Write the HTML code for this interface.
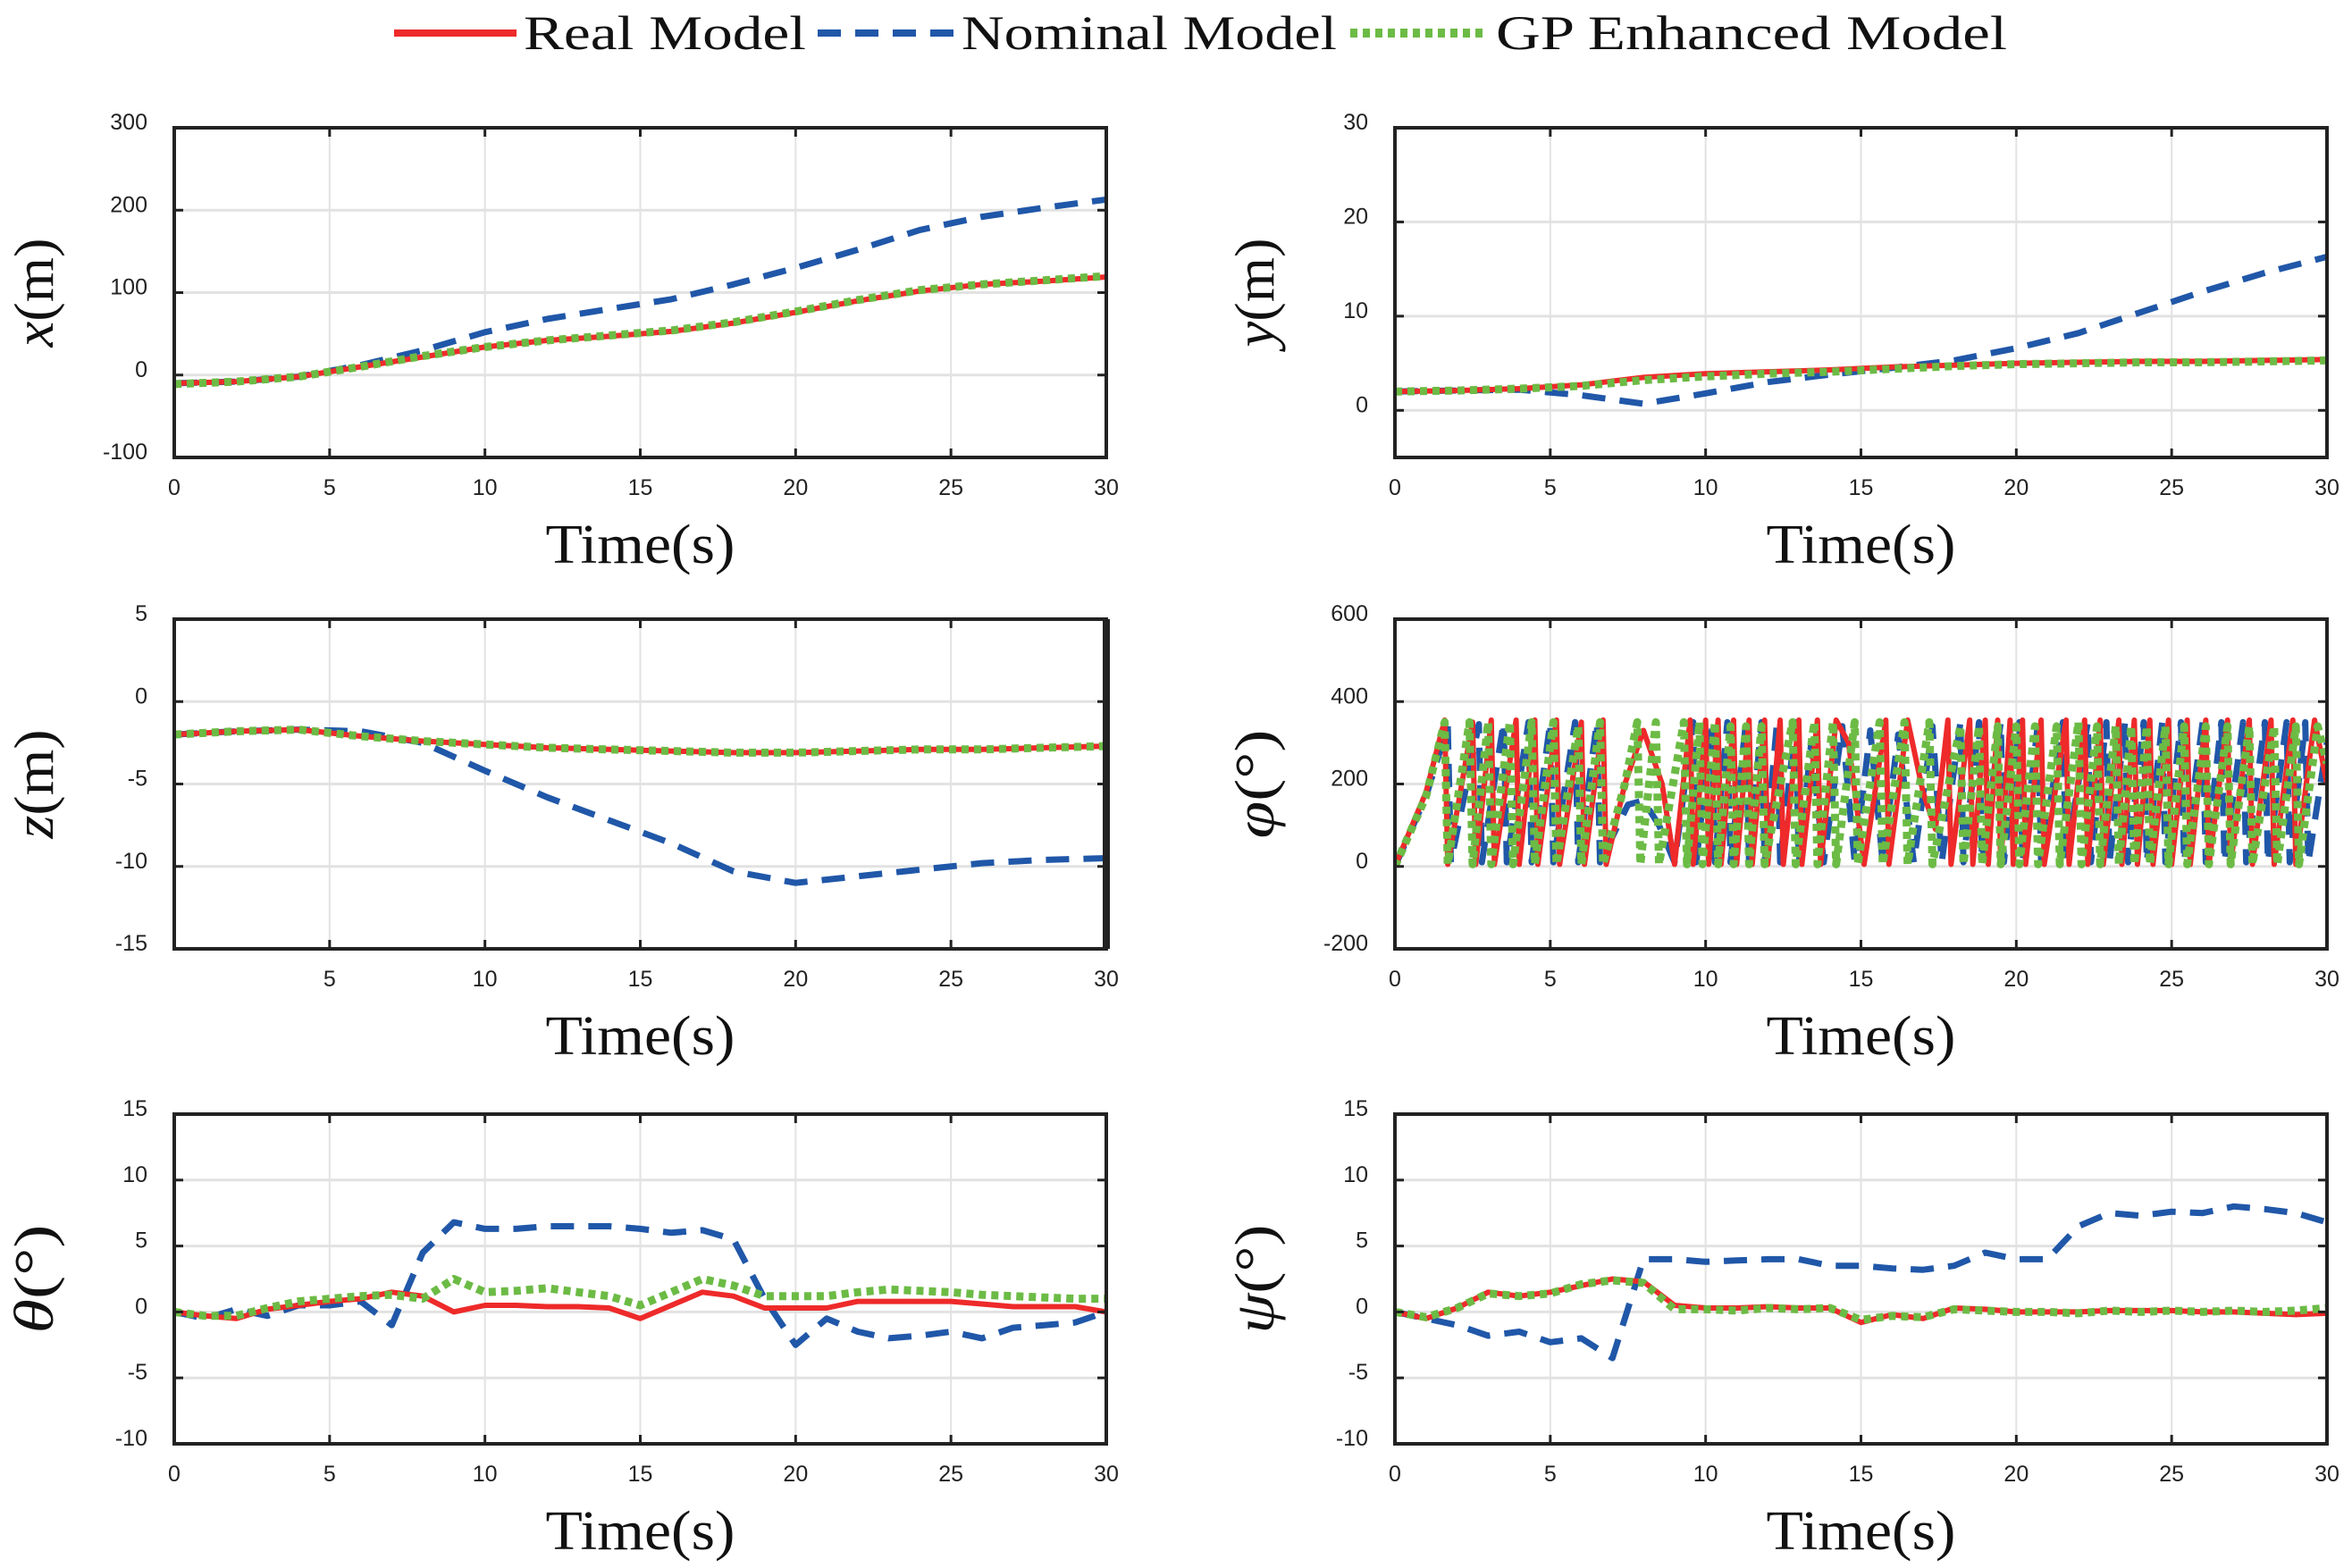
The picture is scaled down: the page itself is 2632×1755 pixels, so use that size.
<!DOCTYPE html>
<html><head><meta charset="utf-8">
<style>
html,body{margin:0;padding:0;background:#fff;}
svg{display:block;}
.tk{font-family:"Liberation Sans",sans-serif;font-size:25px;fill:#222;}
.lab{font-family:"Liberation Serif",serif;font-size:62px;fill:#111;}
.leg{font-family:"Liberation Serif",serif;font-size:54px;fill:#111;}
</style></head>
<body>
<svg id="fig" width="2632" height="1755" viewBox="0 0 2632 1755" xmlns="http://www.w3.org/2000/svg">
<g>
  <line x1="441" y1="37" x2="578" y2="37" stroke="#ee2a2a" stroke-width="8"/>
  <text class="leg" x="586" y="55" textLength="316" lengthAdjust="spacingAndGlyphs">Real Model</text>
  <line x1="915" y1="37" x2="1068" y2="37" stroke="#2057a8" stroke-width="8" stroke-dasharray="26 16"/>
  <text class="leg" x="1076" y="55" textLength="420" lengthAdjust="spacingAndGlyphs">Nominal Model</text>
  <line x1="1511" y1="37" x2="1664" y2="37" stroke="#6cbb45" stroke-width="10" stroke-dasharray="8 6"/>
  <text class="leg" x="1674" y="55" textLength="572" lengthAdjust="spacingAndGlyphs">GP Enhanced Model</text>
</g>
</svg>
<script>
// ---- data ----
const tCoarse = [0,2,4,6,8,10,12,14,16,18,20,22,24,26,28,30];
const xReal = [-10,-8,-2,10,22,34,42,47,53,63,76,90,102,110,114,119];
const xNom  = [-10,-8,-2,12,30,52,68,80,92,110,130,152,176,192,203,213];
const xGP   = [-11,-8,-2,10,23,34,42,48,54,64,77,91,103,110,115,120];
const yReal = [2,2.1,2.3,2.7,3.5,3.9,4.1,4.3,4.6,4.8,5,5.1,5.2,5.2,5.3,5.4];
const yNom  = [2,2.1,2.2,1.6,0.7,1.8,3,3.8,4.5,5.3,6.6,8.2,10.4,12.6,14.6,16.3];
const yGP   = [2,2.1,2.3,2.6,3.2,3.6,3.9,4.1,4.4,4.7,4.9,5,5.1,5.1,5.2,5.3];
const zReal = [-2,-1.8,-1.7,-2.1,-2.4,-2.6,-2.8,-2.9,-3,-3.1,-3.1,-3.0,-2.9,-2.9,-2.8,-2.7];
const zNom  = [-2,-1.8,-1.7,-1.8,-2.5,-4.2,-5.8,-7.2,-8.6,-10.3,-11.0,-10.6,-10.2,-9.8,-9.6,-9.5];
const zGP   = [-2,-1.8,-1.7,-2.1,-2.4,-2.6,-2.8,-2.9,-3,-3.1,-3.1,-3.0,-2.9,-2.9,-2.8,-2.7];
const tFine = [0,1,2,3,4,5,6,7,8,9,10,11,12,13,14,15,16,17,18,19,20,21,22,23,24,25,26,27,28,29,30];
const thReal = [0,-0.3,-0.5,0.2,0.5,0.8,1,1.5,1.2,0,0.5,0.5,0.4,0.4,0.3,-0.5,0.5,1.5,1.2,0.3,0.3,0.3,0.8,0.8,0.8,0.8,0.6,0.4,0.4,0.4,0];
const thNom  = [0,-0.5,0.2,-0.3,0.5,0.5,0.8,-1,4.5,6.8,6.3,6.3,6.5,6.5,6.5,6.3,6.0,6.2,5.5,1,-2.5,-0.5,-1.5,-2,-1.8,-1.5,-2,-1.2,-1,-0.8,0];
const thGP   = [0,-0.3,-0.3,0.3,0.8,1,1.2,1.3,1,2.5,1.5,1.6,1.8,1.5,1.2,0.5,1.5,2.5,2,1.2,1.2,1.2,1.5,1.7,1.6,1.5,1.3,1.2,1.1,1,1.0];
const psReal = [0,-0.5,0.3,1.5,1.2,1.5,2,2.5,2.3,0.5,0.3,0.3,0.4,0.3,0.3,-0.8,-0.2,-0.5,0.3,0.2,0,0,0,0.1,0.1,0.1,0,0,-0.1,-0.2,-0.1];
const psNom  = [0,-0.5,-1,-1.8,-1.5,-2.3,-2,-3.5,4,4.0,3.8,3.9,4,4,3.5,3.5,3.3,3.2,3.5,4.5,4,4,6.5,7.5,7.3,7.6,7.5,8,7.8,7.5,6.8];
const psGP   = [0,-0.4,0.3,1.4,1.2,1.4,2.1,2.4,2.2,0.2,0.2,0.1,0.3,0.2,0.3,-0.6,-0.3,-0.4,0.2,0.1,0,0,-0.1,0.1,0,0.1,0,0.1,0,0.1,0.3];
const phiReal = [[0,0],[1,180],[1.6,355],[1.7,5],[2.5,350],[2.6,5],[3.1,355],[3.2,5],[3.9,355],[4,5],[4.5,355],[4.6,5],[5.2,355],[5.3,5],[6.0,350],[6.1,5],[6.7,355],[6.8,5],[7.4,200],[8,330],[8.6,200],[9,5],[9.5,355],[9.6,5],[10,355],[10.1,5],[10.4,355],[10.5,5],[10.9,355],[11,5],[11.4,355],[11.5,5],[11.9,355],[12,5],[12.4,355],[12.5,5],[13,355],[13.1,5],[13.6,355],[13.7,5],[14.2,355],[14.6,300],[15.1,5],[15.8,355],[15.9,5],[16.5,355],[17,180],[17.4,90],[17.8,355],[17.9,5],[18.5,355],[18.6,5],[19,355],[19.1,5],[19.4,355],[19.5,5],[19.8,355],[19.9,5],[20.2,355],[20.3,5],[20.8,355],[20.9,5],[21.6,355],[21.7,5],[22.2,355],[22.3,5],[22.7,355],[22.8,5],[23.3,355],[23.4,5],[23.8,355],[23.9,5],[24.3,355],[24.4,5],[24.9,355],[25,5],[25.5,355],[25.6,5],[26.1,355],[26.2,5],[26.8,355],[26.9,5],[27.5,355],[27.6,5],[28.2,355],[28.3,5],[28.9,355],[29,5],[29.6,355],[30,200]];
const phiNom  = [[0,0],[1,170],[1.7,340],[1.8,10],[2.7,345],[2.8,10],[3.5,350],[3.6,10],[4.3,350],[4.4,10],[5.0,350],[5.1,10],[5.8,350],[5.9,10],[6.5,350],[6.6,10],[7.5,150],[8,160],[8.5,100],[9,10],[9.6,350],[9.7,10],[10.2,350],[10.3,10],[10.7,350],[10.8,10],[11.3,350],[11.4,10],[11.8,350],[11.9,10],[12.3,350],[12.4,10],[12.9,350],[13,10],[13.4,300],[13.8,10],[14.4,340],[14.8,10],[15.3,330],[15.7,10],[16.2,320],[16.7,10],[17.3,340],[17.6,10],[18.2,350],[18.3,10],[18.8,350],[18.9,10],[19.5,350],[19.6,10],[20.1,350],[20.2,10],[20.7,350],[20.8,10],[21.5,350],[21.6,10],[22.3,350],[22.4,10],[22.9,350],[23,10],[23.5,350],[23.6,10],[24.1,350],[24.2,10],[24.7,350],[24.8,10],[25.3,350],[25.4,10],[26,350],[26.1,10],[26.6,350],[26.7,10],[27.3,350],[27.4,10],[28,350],[28.1,10],[28.7,350],[28.8,10],[29.3,350],[29.4,10],[30,300]];
const phiGP   = [[0,0],[1,170],[1.6,350],[1.7,5],[2.4,350],[2.5,5],[3,350],[3.1,5],[3.7,350],[3.8,5],[4.4,350],[4.5,5],[5.1,350],[5.2,5],[5.9,340],[6.0,5],[6.6,350],[6.7,5],[7.4,200],[7.8,350],[7.9,5],[8.4,350],[8.5,5],[9.3,350],[9.4,5],[9.8,350],[9.9,5],[10.3,350],[10.4,5],[10.8,340],[10.9,5],[11.3,340],[11.4,5],[11.8,340],[11.9,5],[12.8,350],[12.9,5],[13.5,350],[13.6,5],[14.1,350],[14.2,5],[14.8,350],[14.9,5],[15.6,350],[15.7,5],[16.4,350],[16.5,5],[17.2,350],[17.3,5],[18.2,340],[18.3,5],[18.8,340],[18.9,5],[19.4,340],[19.5,5],[20,340],[20.1,5],[20.6,340],[20.7,5],[21.3,340],[21.4,5],[22,350],[22.1,5],[22.6,340],[22.7,5],[23.2,340],[23.3,5],[23.7,340],[23.8,5],[24.2,340],[24.3,5],[24.8,340],[24.9,5],[25.4,340],[25.5,5],[26.1,340],[26.2,5],[26.8,340],[26.9,5],[27.5,340],[27.6,5],[28.3,340],[28.4,5],[29,340],[29.1,5],[29.7,340],[30,250]];
const xTicksFull = [0,5,10,15,20,25,30];
const xTicksZ = [5,10,15,20,25,30];
const xTickRange = [0,30];

const NS="http://www.w3.org/2000/svg";
const svg=document.getElementById('fig');
function mk(tag,attrs,parent){const e=document.createElementNS(NS,tag);for(const k in attrs)e.setAttribute(k,attrs[k]);parent.appendChild(e);return e;}

function panel(p){
  const g=mk('g',{},svg);
  
  
  const X=v=>p.L+(v-xTickRange[0])/(xTickRange[1]-xTickRange[0])*p.W;
  const Y=v=>p.T+p.H-(v-p.ymin)/(p.ymax-p.ymin)*p.H;
  p.xt.forEach(v=>{const l=mk('line',{x1:X(v),x2:X(v),y1:p.T,y2:p.T+p.H,stroke:'#e2e2e2','stroke-width':2},g);
    
    });
  p.yt.forEach(v=>{const l=mk('line',{x1:p.L,x2:p.L+p.W,y1:Y(v),y2:Y(v),stroke:'#e2e2e2','stroke-width':3},g);
    
    });
  const clip='c'+p.name; const cp=mk('clipPath',{id:clip},g); mk('rect',{x:p.L,y:p.T,width:p.W,height:p.H},cp);
  const sg=mk('g',{'clip-path':'url(#'+clip+')'},g);
  function line(pts,style,nm){
    const d=pts.map((q,i)=>(i?'L':'M')+X(q[0]).toFixed(1)+' '+Y(q[1]).toFixed(1)).join(' ');
    const path=mk('path',Object.assign({d:d,fill:'none','stroke-linejoin':'round'},style),sg);
    
    
  }
  const sty={real:{stroke:'#ee2a2a','stroke-width':6},nom:{stroke:'#2057a8','stroke-width':7,'stroke-dasharray':'26 16'},gp:{stroke:'#6cbb45','stroke-width':9,'stroke-dasharray':'8 6'}};
  line(p.nom,sty.nom,'nominal-series');
  line(p.real,sty.real,'real-series');
  line(p.gp,sty.gp,'gp-series');
  const b=mk('rect',{x:p.L,y:p.T,width:p.W,height:p.H,fill:'none',stroke:'#222','stroke-width':4},g);
  
  
  if(p.rightThick){mk('line',{x1:p.L+p.W,x2:p.L+p.W,y1:p.T,y2:p.T+p.H,stroke:'#222','stroke-width':8},g);}
  p.xt.forEach(v=>{
    mk('line',{x1:X(v),x2:X(v),y1:p.T+p.H,y2:p.T+p.H-10,stroke:'#222','stroke-width':3},g);
    mk('line',{x1:X(v),x2:X(v),y1:p.T,y2:p.T+10,stroke:'#222','stroke-width':3},g);
    const t=mk('text',{x:X(v),y:p.T+p.H+42,'text-anchor':'middle',class:'tk'},g);t.textContent=v;
    
    
  });
  p.yt.forEach(v=>{
    mk('line',{x1:p.L,x2:p.L+10,y1:Y(v),y2:Y(v),stroke:'#222','stroke-width':3},g);
    mk('line',{x1:p.L+p.W,x2:p.L+p.W-10,y1:Y(v),y2:Y(v),stroke:'#222','stroke-width':3},g);
    const t=mk('text',{x:p.L-30,y:Y(v)+2,'text-anchor':'end',class:'tk'},g);t.textContent=v;
    
    
  });
  const xl=mk('text',{x:p.L+p.W/2,y:p.T+p.H+118,'text-anchor':'middle',class:'lab',textLength:212,lengthAdjust:'spacingAndGlyphs'},g);xl.textContent='Time(s)';
  
  
  const yl=mk('text',{x:0,y:0,'text-anchor':'middle',class:'lab',textLength:122,lengthAdjust:'spacingAndGlyphs',transform:'translate('+(p.L-136)+','+(p.T+p.H/2)+') rotate(-90)'},g);
  
  
  const s1=mk('tspan',{'font-style':'italic'},yl);s1.textContent=p.ysym;
  const s2=mk('tspan',{},yl);s2.textContent=p.yunit;
}
const zip=(t,v)=>t.map((x,i)=>[x,v[i]]);
const LL=195,RL=1561,W=1043,H=369,T1=143,T2=693,T3=1247;
panel({name:'x-panel',L:LL,T:T1,W:W,H:H,ymin:-100,ymax:300,xt:xTicksFull,yt:[-100,0,100,200,300],ysym:'x',yunit:'(m)',real:zip(tCoarse,xReal),nom:zip(tCoarse,xNom),gp:zip(tCoarse,xGP)});
panel({name:'y-panel',L:RL,T:T1,W:W,H:H,ymin:-5,ymax:30,xt:xTicksFull,yt:[0,10,20,30],ysym:'y',yunit:'(m)',real:zip(tCoarse,yReal),nom:zip(tCoarse,yNom),gp:zip(tCoarse,yGP)});
panel({name:'z-panel',L:LL,T:T2,W:W,H:H,ymin:-15,ymax:5,xt:xTicksZ,yt:[-15,-10,-5,0,5],ysym:'z',yunit:'(m)',rightThick:true,real:zip(tCoarse,zReal),nom:zip(tCoarse,zNom),gp:zip(tCoarse,zGP)});
panel({name:'phi-panel',L:RL,T:T2,W:W,H:H,ymin:-200,ymax:600,xt:xTicksFull,yt:[-200,0,200,400,600],ysym:'φ',yunit:'(°)',real:phiReal,nom:phiNom,gp:phiGP});
panel({name:'theta-panel',L:LL,T:T3,W:W,H:H,ymin:-10,ymax:15,xt:xTicksFull,yt:[-10,-5,0,5,10,15],ysym:'θ',yunit:'(°)',real:zip(tFine,thReal),nom:zip(tFine,thNom),gp:zip(tFine,thGP)});
panel({name:'psi-panel',L:RL,T:T3,W:W,H:H,ymin:-10,ymax:15,xt:xTicksFull,yt:[-10,-5,0,5,10,15],ysym:'ψ',yunit:'(°)',real:zip(tFine,psReal),nom:zip(tFine,psNom),gp:zip(tFine,psGP)});
</script>
</body></html>
